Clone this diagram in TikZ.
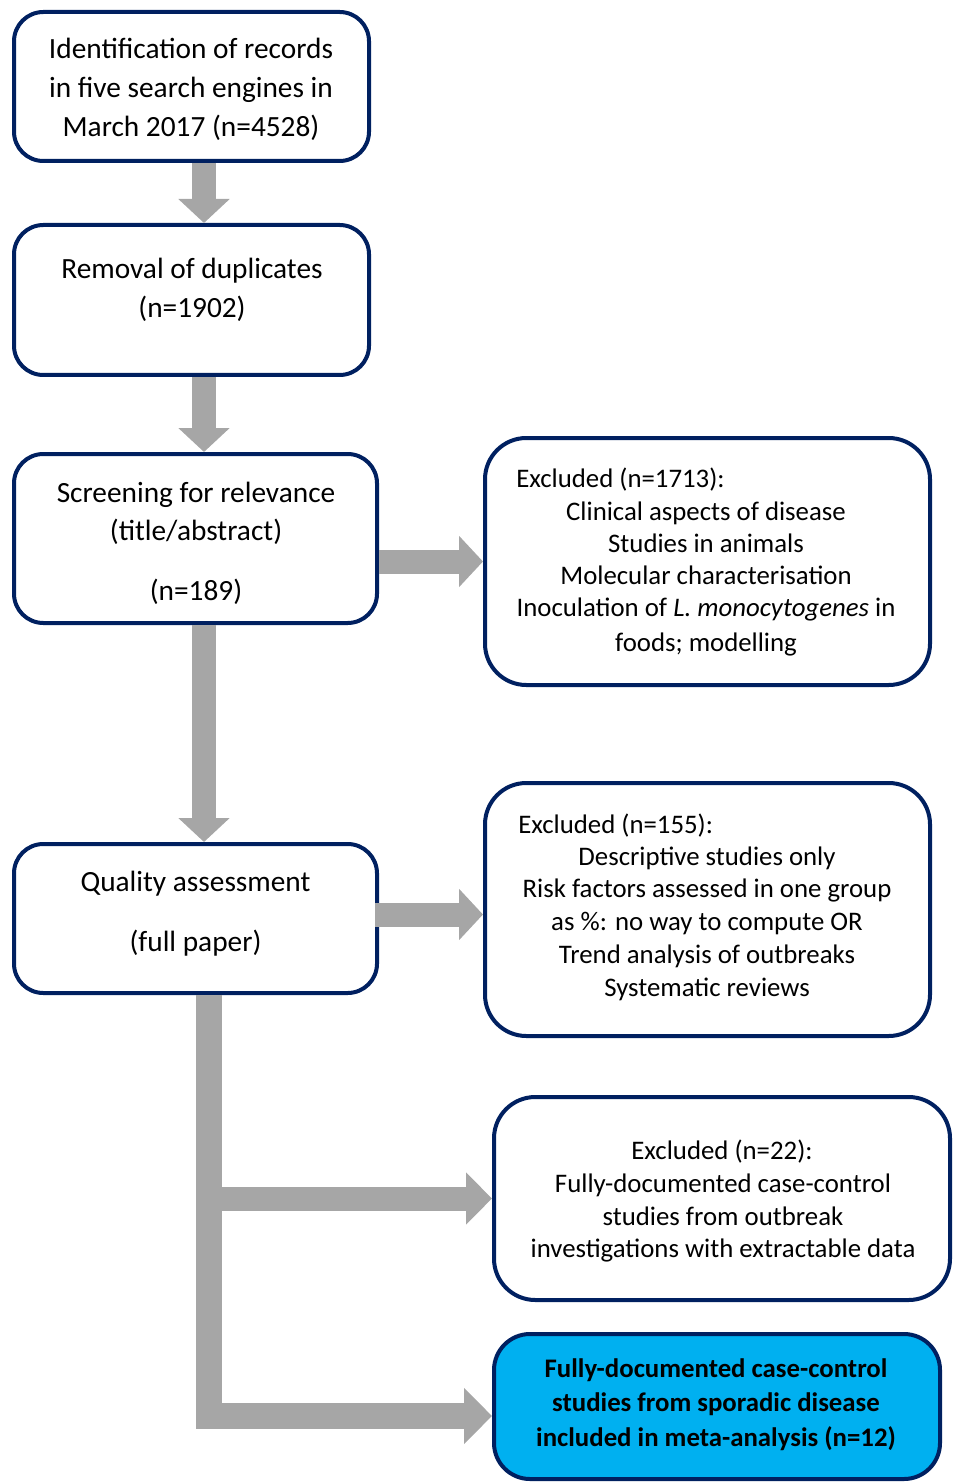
\documentclass[tikz,border=0pt]{standalone}
\usepackage{fontspec}
\setmainfont{Carlito}
\usetikzlibrary{arrows.meta,calc}
\definecolor{navy}{RGB}{0,32,96}
\definecolor{arrowgray}{RGB}{166,166,166}
\definecolor{skyfill}{RGB}{0,176,240}
\begin{document}
\begin{tikzpicture}[x=0.75pt,y=-0.75pt,
  box/.style={draw=navy,line width=3pt,rounded corners=22pt,inner sep=0pt,fill=white},
  rbox/.style={box,rounded corners=31pt},
  lt/.style={anchor=base,inner sep=0pt,font=\fontsize{22pt}{26pt}\selectfont},
  rt/.style={anchor=base,inner sep=0pt,font=\fontsize{20.1pt}{24pt}\selectfont},
  bt/.style={anchor=base,inner sep=0pt,font=\fontsize{20.1pt}{24pt}\selectfont\bfseries},
  flow/.style={draw=arrowgray,line width=18pt,-{Triangle[width=37.5pt,length=18pt]}},
]
\useasboundingbox (0,0) rectangle (952,1483);

% boxes
\node[box,minimum width=266.25pt,minimum height=111.75pt] (b1) at (191.5,86.5) {};
\node[box,minimum width=266.25pt,minimum height=112.5pt] (b2) at (191.5,300) {};
\node[box,minimum width=272.25pt,minimum height=126.75pt] (s) at (195.5,538.5) {};
\node[box,minimum width=272.25pt,minimum height=111.75pt] (q) at (195.5,918.5) {};
\node[rbox,minimum width=333.75pt,minimum height=185.25pt] (e1) at (707.5,561.5) {};
\node[rbox,minimum width=333.75pt,minimum height=189.75pt] (e2) at (707.5,909.5) {};
\node[rbox,minimum width=342pt,minimum height=152.25pt] (e3) at (722,1198.5) {};
\node[box,rounded corners=27pt,fill=skyfill,minimum width=334.5pt,minimum height=108.75pt] (blue) at (717,1406.5) {};

% texts
\node[lt] (t1a) at (191,59) {Identification of records};
\node[lt] (t1b) at (191,98) {in five search engines in};
\node[lt] (t1c) at (191,137) {March 2017 (n=4528)};
\node[lt] (t2a) at (192,279) {Removal of duplicates};
\node[lt] (t2b) at (192,318) {(n=1902)};
\node[lt] (t3a) at (196,502) {Screening for relevance};
\node[lt] (t3b) at (196,540) {(title/abstract)};
\node[lt] (t3c) at (196,600) {(n=189)};
\node[lt] (t4a) at (195.5,891) {Quality assessment};
\node[lt] (t4b) at (195.5,951) {(full paper)};

\node[rt,anchor=base west] (u1a) at (516,487) {Excluded (n=1713):};
\node[rt] (u1b) at (706,520) {Clinical aspects of disease};
\node[rt] (u1c) at (706,552) {Studies in animals};
\node[rt] (u1d) at (706,584) {Molecular characterisation};
\node[rt] (u1e) at (706,616) {Inoculation of \textit{L. monocytogenes} in};
\node[rt] (u1f) at (706,651) {foods; modelling};

\node[rt,anchor=base west] (u2a) at (518,833) {Excluded (n=155):};
\node[rt] (u2b) at (707,865) {Descriptive studies only};
\node[rt] (u2c) at (707,897) {Risk factors assessed in one group};
\node[rt] (u2d) at (707,930) {as \%: no way to compute OR};
\node[rt] (u2e) at (707,963) {Trend analysis of outbreaks};
\node[rt] (u2f) at (707,996) {Systematic reviews};

\node[rt] (u3a) at (722,1159) {Excluded (n=22):};
\node[rt] (u3b) at (723,1192) {Fully-documented case-control};
\node[rt] (u3c) at (723,1225) {studies from outbreak};
\node[rt] (u3d) at (723,1257) {investigations with extractable data};

\node[bt] (v1) at (716,1377) {Fully-documented case-control};
\node[bt] (v2) at (716,1411) {studies from sporadic disease};
\node[bt] (v3) at (716,1446) {included in meta-analysis (n=12)};

% connectors
\coordinate (col) at (204,0);
\coordinate (trunk) at (209,0);
\coordinate (e2in) at ([yshift=-3.75pt]e2.west);
\coordinate (bin) at ([yshift=-7.1pt]blue.west);
\draw[flow] (b1.south -| col) -- (b2.north -| col);
\draw[flow] (b2.south -| col) -- (s.north -| col);
\draw[flow] (s.south -| col) -- (q.north -| col);
\draw[flow] (s.east |- e1.west) -- (e1.west);
\draw[flow] ([xshift=-3pt]q.east |- e2in) -- (e2in);
\draw[draw=arrowgray,line width=19.5pt,-{Triangle[width=41pt,length=21pt]}] (q.south -| trunk) |- (bin);
\draw[draw=arrowgray,line width=18pt,-{Triangle[width=38pt,length=19.5pt]}] (trunk |- e3.west) -- (e3.west);
\end{tikzpicture}
\end{document}
